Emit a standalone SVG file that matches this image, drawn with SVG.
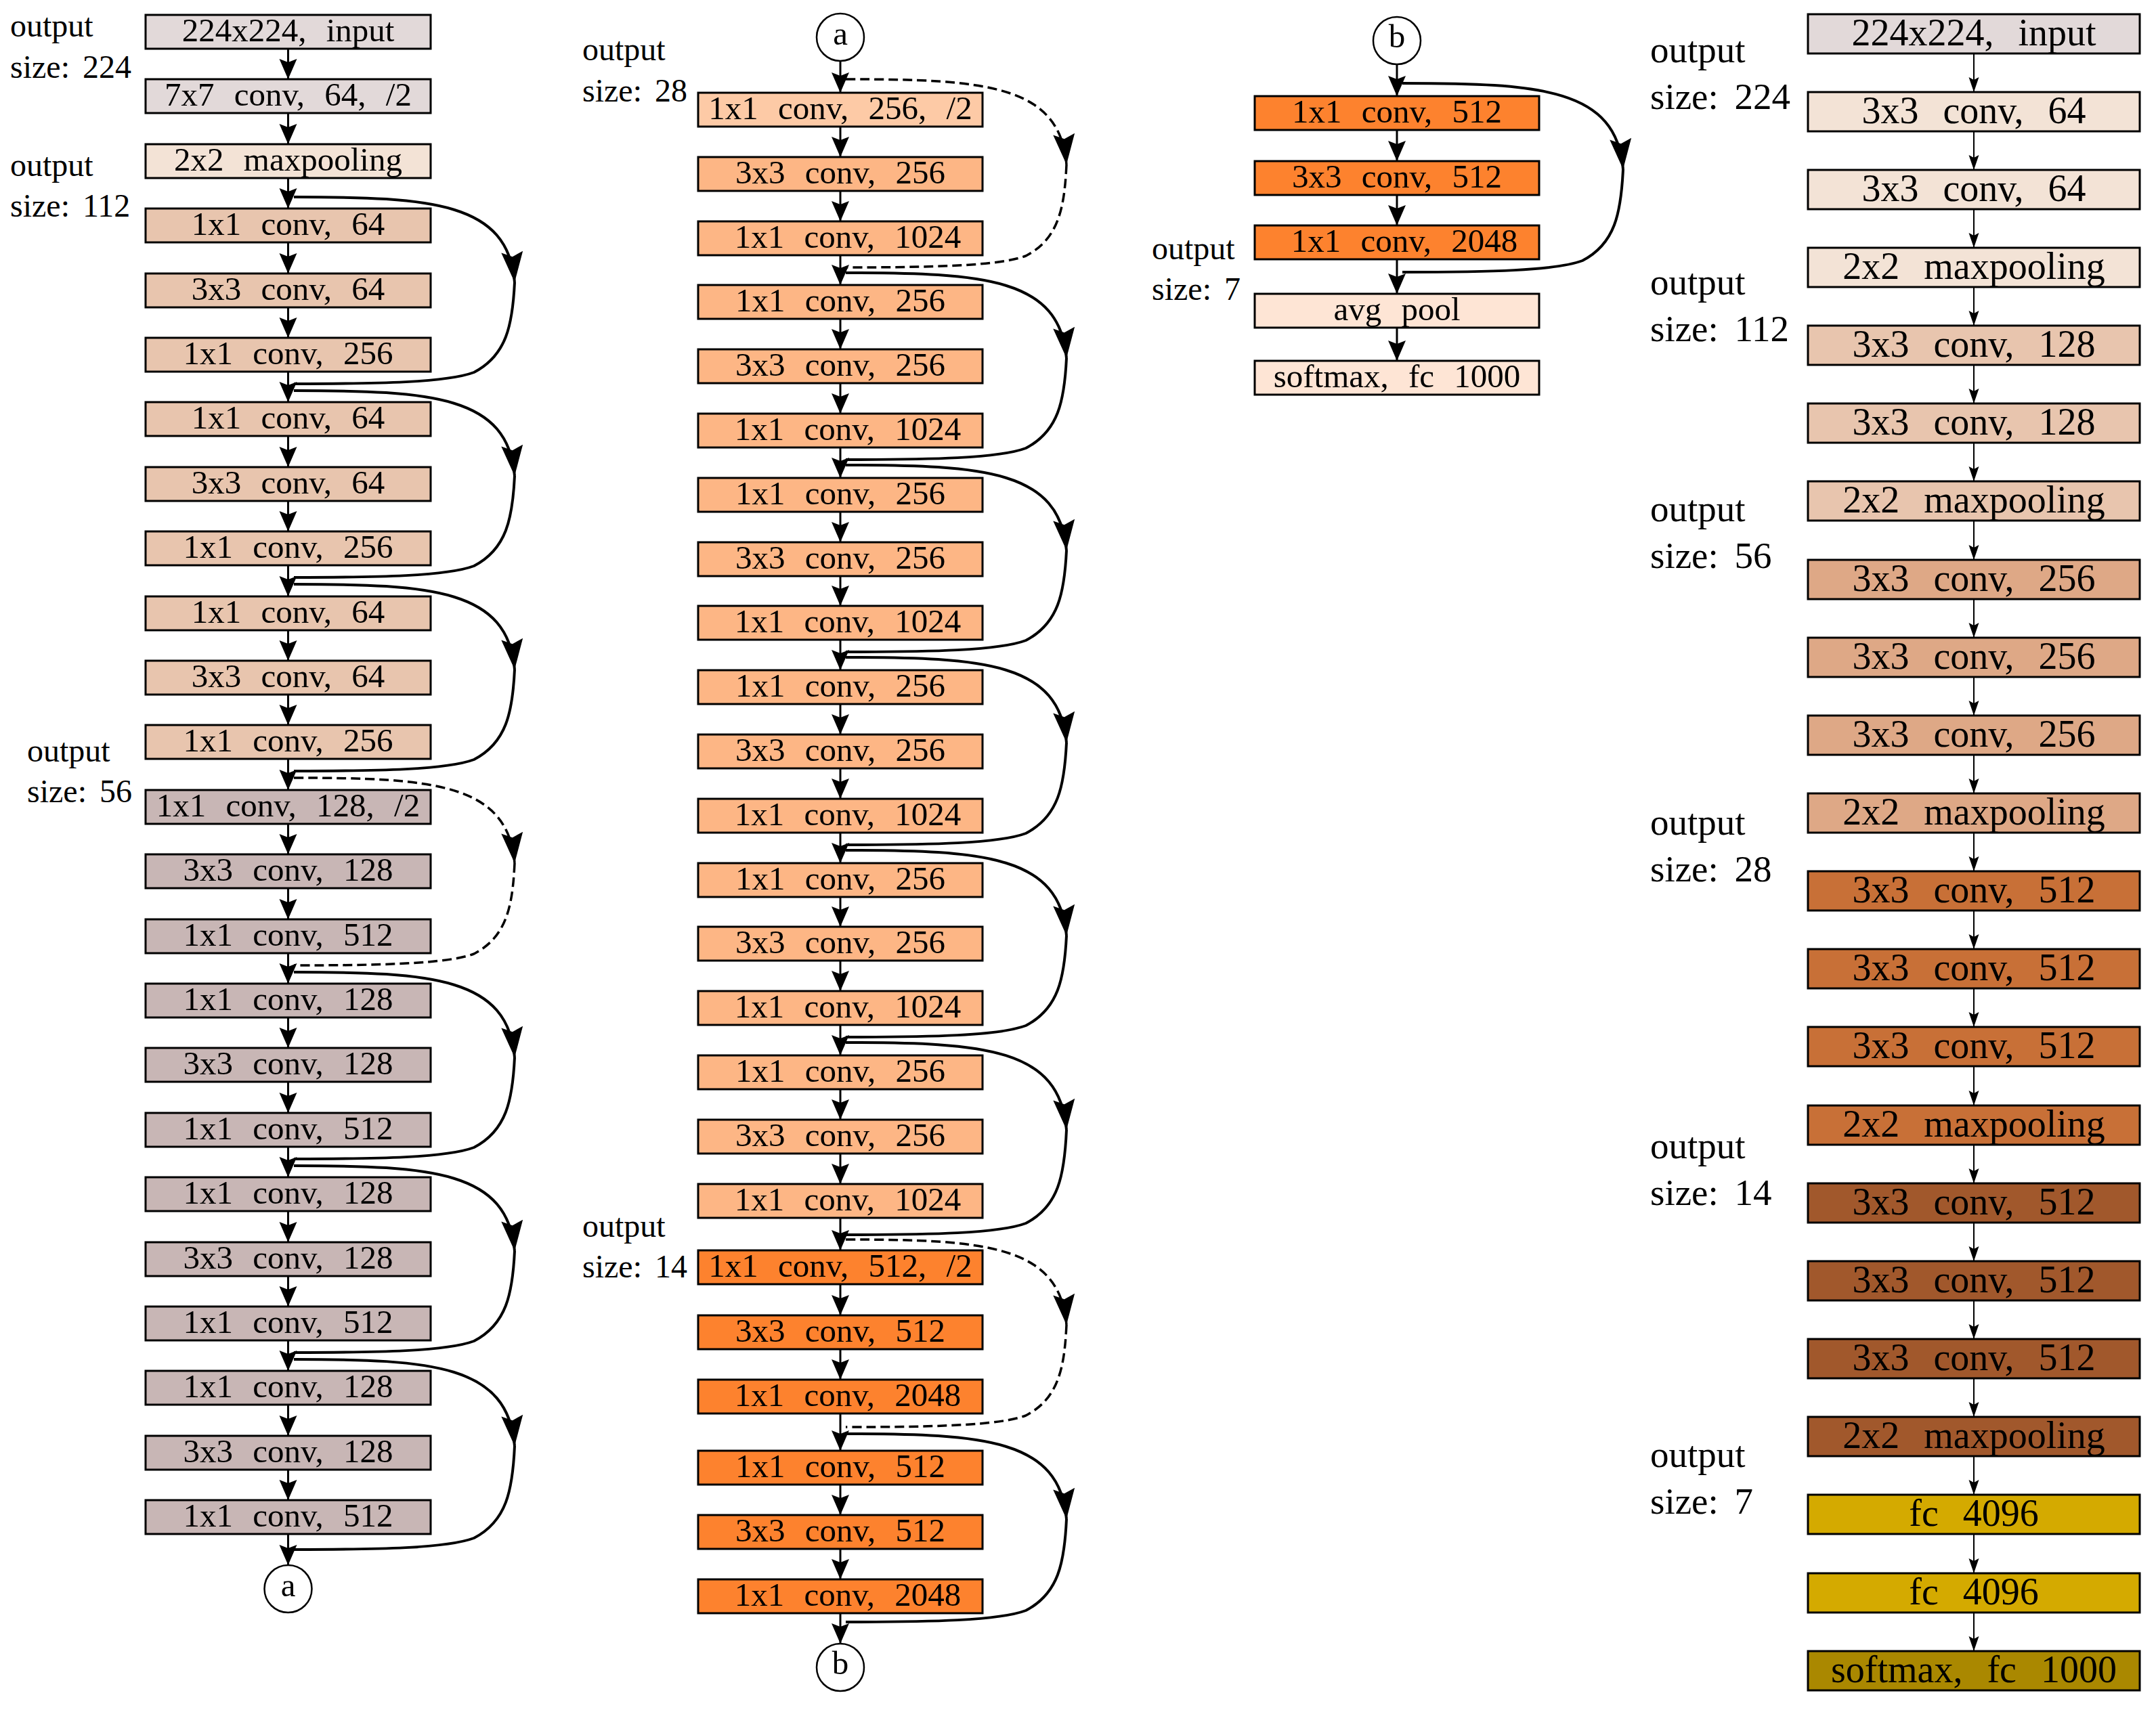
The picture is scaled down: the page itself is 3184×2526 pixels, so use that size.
<svg xmlns="http://www.w3.org/2000/svg" width="3184" height="2526" viewBox="0 0 3184 2526">
<defs>
<style>
.bx{stroke:#000;stroke-width:3}
.t{font-family:"Liberation Serif","Times New Roman",serif;font-size:49px;text-anchor:middle;word-spacing:17px;fill:#000}
.tv{font-family:"Liberation Serif","Times New Roman",serif;font-size:56px;text-anchor:middle;word-spacing:22px;fill:#000}
.lb{font-family:"Liberation Serif","Times New Roman",serif;font-size:48px;word-spacing:7px;fill:#000}
.lbv{font-family:"Liberation Serif","Times New Roman",serif;font-size:55px;word-spacing:10px;fill:#000}
.circ{fill:#fff;stroke:#000;stroke-width:2.5}
.arr{stroke:#000;stroke-width:3;fill:none;marker-end:url(#ah)}
.varr{stroke:#000;stroke-width:2;fill:none;marker-end:url(#ahv)}
.sk{stroke:#000;stroke-width:4;fill:none}
.ska{marker-end:url(#ahs)}
.dash{stroke-dasharray:14 7;stroke-width:3.5}
.cin{fill:#e2d9d9}.cmp{fill:#f3e3d6}.c64{fill:#e8c5ae}.c128{fill:#c8b6b5}
.c256a{fill:#fdcaa6}.c256{fill:#fdb685}.c512{fill:#fd822e}.cend{fill:#fee5d5}
.cv256{fill:#dea886}.cv512a{fill:#c87037}.cv512b{fill:#a1582c}.cfc{fill:#d4aa00}.csm{fill:#aa8800}
</style>
<marker id="ah" markerUnits="userSpaceOnUse" viewBox="-32 -15 34 30" markerWidth="34" markerHeight="30" refX="0" refY="0" orient="auto" overflow="visible"><path d="M0,0 L-30,-13 L-25,0 L-30,13 Z" fill="#000"/></marker>
<marker id="ahv" markerUnits="userSpaceOnUse" viewBox="-24 -9 26 18" markerWidth="26" markerHeight="18" refX="0" refY="0" orient="auto" overflow="visible"><path d="M0,0 L-22,-7.5 L-18,0 L-22,7.5 Z" fill="#000"/></marker>
<marker id="ahs" markerUnits="userSpaceOnUse" viewBox="-47 -18 49 36" markerWidth="49" markerHeight="36" refX="0" refY="0" orient="auto" overflow="visible"><path d="M0,0 L-45,-16 L-38,0 L-45,16 Z" fill="#000"/></marker>
</defs>
<rect x="0" y="0" width="3184" height="2526" fill="#fff"/>

<g id="labels">
<text class="lb" x="15" y="54">output</text><text class="lb" x="15" y="115">size: 224</text>
<text class="lb" x="15" y="260">output</text><text class="lb" x="15" y="320">size: 112</text>
<text class="lb" x="40" y="1125">output</text><text class="lb" x="40" y="1185">size: 56</text>
<text class="lb" x="860" y="89">output</text><text class="lb" x="860" y="150">size: 28</text>
<text class="lb" x="860" y="1827">output</text><text class="lb" x="860" y="1887">size: 14</text>
<text class="lb" x="1701" y="383">output</text><text class="lb" x="1701" y="443">size: 7</text>
<text class="lbv" x="2437" y="92">output</text><text class="lbv" x="2437" y="161">size: 224</text>
<text class="lbv" x="2437" y="435">output</text><text class="lbv" x="2437" y="504">size: 112</text>
<text class="lbv" x="2437" y="770">output</text><text class="lbv" x="2437" y="839">size: 56</text>
<text class="lbv" x="2437" y="1233">output</text><text class="lbv" x="2437" y="1302">size: 28</text>
<text class="lbv" x="2437" y="1711">output</text><text class="lbv" x="2437" y="1780">size: 14</text>
<text class="lbv" x="2437" y="2167">output</text><text class="lbv" x="2437" y="2236">size: 7</text>
</g>

<!-- Column 1 -->
<g id="r1-01"><rect class="bx cin" x="215" y="22" width="421" height="50"/><text class="t" x="425.5" y="61">224x224, input</text></g>
<g id="r1-02"><rect class="bx cin" x="215" y="117" width="421" height="50"/><text class="t" x="425.5" y="156">7x7 conv, 64, /2</text></g>
<g id="r1-03"><rect class="bx cmp" x="215" y="213" width="421" height="50"/><text class="t" x="425.5" y="252">2x2 maxpooling</text></g>
<g id="r1-04"><rect class="bx c64" x="215" y="308" width="421" height="50"/><text class="t" x="425.5" y="347">1x1 conv, 64</text></g>
<g id="r1-05"><rect class="bx c64" x="215" y="404" width="421" height="50"/><text class="t" x="425.5" y="443">3x3 conv, 64</text></g>
<g id="r1-06"><rect class="bx c64" x="215" y="499" width="421" height="50"/><text class="t" x="425.5" y="538">1x1 conv, 256</text></g>
<g id="r1-07"><rect class="bx c64" x="215" y="594" width="421" height="50"/><text class="t" x="425.5" y="633">1x1 conv, 64</text></g>
<g id="r1-08"><rect class="bx c64" x="215" y="690" width="421" height="50"/><text class="t" x="425.5" y="729">3x3 conv, 64</text></g>
<g id="r1-09"><rect class="bx c64" x="215" y="785" width="421" height="50"/><text class="t" x="425.5" y="824">1x1 conv, 256</text></g>
<g id="r1-10"><rect class="bx c64" x="215" y="881" width="421" height="50"/><text class="t" x="425.5" y="920">1x1 conv, 64</text></g>
<g id="r1-11"><rect class="bx c64" x="215" y="976" width="421" height="50"/><text class="t" x="425.5" y="1015">3x3 conv, 64</text></g>
<g id="r1-12"><rect class="bx c64" x="215" y="1071" width="421" height="50"/><text class="t" x="425.5" y="1110">1x1 conv, 256</text></g>
<g id="r1-13"><rect class="bx c128" x="215" y="1167" width="421" height="50"/><text class="t" x="425.5" y="1206">1x1 conv, 128, /2</text></g>
<g id="r1-14"><rect class="bx c128" x="215" y="1262" width="421" height="50"/><text class="t" x="425.5" y="1301">3x3 conv, 128</text></g>
<g id="r1-15"><rect class="bx c128" x="215" y="1358" width="421" height="50"/><text class="t" x="425.5" y="1397">1x1 conv, 512</text></g>
<g id="r1-16"><rect class="bx c128" x="215" y="1453" width="421" height="50"/><text class="t" x="425.5" y="1492">1x1 conv, 128</text></g>
<g id="r1-17"><rect class="bx c128" x="215" y="1548" width="421" height="50"/><text class="t" x="425.5" y="1587">3x3 conv, 128</text></g>
<g id="r1-18"><rect class="bx c128" x="215" y="1644" width="421" height="50"/><text class="t" x="425.5" y="1683">1x1 conv, 512</text></g>
<g id="r1-19"><rect class="bx c128" x="215" y="1739" width="421" height="50"/><text class="t" x="425.5" y="1778">1x1 conv, 128</text></g>
<g id="r1-20"><rect class="bx c128" x="215" y="1835" width="421" height="50"/><text class="t" x="425.5" y="1874">3x3 conv, 128</text></g>
<g id="r1-21"><rect class="bx c128" x="215" y="1930" width="421" height="50"/><text class="t" x="425.5" y="1969">1x1 conv, 512</text></g>
<g id="r1-22"><rect class="bx c128" x="215" y="2025" width="421" height="50"/><text class="t" x="425.5" y="2064">1x1 conv, 128</text></g>
<g id="r1-23"><rect class="bx c128" x="215" y="2121" width="421" height="50"/><text class="t" x="425.5" y="2160">3x3 conv, 128</text></g>
<g id="r1-24"><rect class="bx c128" x="215" y="2216" width="421" height="50"/><text class="t" x="425.5" y="2255">1x1 conv, 512</text></g>
<g id="r1-a"><circle class="circ" cx="425.5" cy="2347" r="35"/><text class="t" x="425.5" y="2358">a</text></g>

<!-- Column 2 -->
<g id="r2-a"><circle class="circ" cx="1241" cy="55" r="35"/><text class="t" x="1241" y="66">a</text></g>
<g id="r2-01"><rect class="bx c256a" x="1031" y="137" width="420" height="50"/><text class="t" x="1241" y="176">1x1 conv, 256, /2</text></g>
<g id="r2-02"><rect class="bx c256" x="1031" y="232" width="420" height="50"/><text class="t" x="1241" y="271">3x3 conv, 256</text></g>
<g id="r2-03"><rect class="bx c256" x="1031" y="327" width="420" height="50"/><text class="t" x="1252" y="366">1x1 conv, 1024</text></g>
<g id="r2-04"><rect class="bx c256" x="1031" y="421" width="420" height="50"/><text class="t" x="1241" y="460">1x1 conv, 256</text></g>
<g id="r2-05"><rect class="bx c256" x="1031" y="516" width="420" height="50"/><text class="t" x="1241" y="555">3x3 conv, 256</text></g>
<g id="r2-06"><rect class="bx c256" x="1031" y="611" width="420" height="50"/><text class="t" x="1252" y="650">1x1 conv, 1024</text></g>
<g id="r2-07"><rect class="bx c256" x="1031" y="706" width="420" height="50"/><text class="t" x="1241" y="745">1x1 conv, 256</text></g>
<g id="r2-08"><rect class="bx c256" x="1031" y="801" width="420" height="50"/><text class="t" x="1241" y="840">3x3 conv, 256</text></g>
<g id="r2-09"><rect class="bx c256" x="1031" y="895" width="420" height="50"/><text class="t" x="1252" y="934">1x1 conv, 1024</text></g>
<g id="r2-10"><rect class="bx c256" x="1031" y="990" width="420" height="50"/><text class="t" x="1241" y="1029">1x1 conv, 256</text></g>
<g id="r2-11"><rect class="bx c256" x="1031" y="1085" width="420" height="50"/><text class="t" x="1241" y="1124">3x3 conv, 256</text></g>
<g id="r2-12"><rect class="bx c256" x="1031" y="1180" width="420" height="50"/><text class="t" x="1252" y="1219">1x1 conv, 1024</text></g>
<g id="r2-13"><rect class="bx c256" x="1031" y="1275" width="420" height="50"/><text class="t" x="1241" y="1314">1x1 conv, 256</text></g>
<g id="r2-14"><rect class="bx c256" x="1031" y="1369" width="420" height="50"/><text class="t" x="1241" y="1408">3x3 conv, 256</text></g>
<g id="r2-15"><rect class="bx c256" x="1031" y="1464" width="420" height="50"/><text class="t" x="1252" y="1503">1x1 conv, 1024</text></g>
<g id="r2-16"><rect class="bx c256" x="1031" y="1559" width="420" height="50"/><text class="t" x="1241" y="1598">1x1 conv, 256</text></g>
<g id="r2-17"><rect class="bx c256" x="1031" y="1654" width="420" height="50"/><text class="t" x="1241" y="1693">3x3 conv, 256</text></g>
<g id="r2-18"><rect class="bx c256" x="1031" y="1749" width="420" height="50"/><text class="t" x="1252" y="1788">1x1 conv, 1024</text></g>
<g id="r2-19"><rect class="bx c512" x="1031" y="1847" width="420" height="50"/><text class="t" x="1241" y="1886">1x1 conv, 512, /2</text></g>
<g id="r2-20"><rect class="bx c512" x="1031" y="1943" width="420" height="50"/><text class="t" x="1241" y="1982">3x3 conv, 512</text></g>
<g id="r2-21"><rect class="bx c512" x="1031" y="2038" width="420" height="50"/><text class="t" x="1252" y="2077">1x1 conv, 2048</text></g>
<g id="r2-22"><rect class="bx c512" x="1031" y="2143" width="420" height="50"/><text class="t" x="1241" y="2182">1x1 conv, 512</text></g>
<g id="r2-23"><rect class="bx c512" x="1031" y="2238" width="420" height="50"/><text class="t" x="1241" y="2277">3x3 conv, 512</text></g>
<g id="r2-24"><rect class="bx c512" x="1031" y="2333" width="420" height="50"/><text class="t" x="1252" y="2372">1x1 conv, 2048</text></g>
<g id="r2-b"><circle class="circ" cx="1241" cy="2463" r="35"/><text class="t" x="1241" y="2473">b</text></g>

<!-- Column 3 -->
<g id="r3-b"><circle class="circ" cx="2063" cy="60" r="35"/><text class="t" x="2063" y="70">b</text></g>
<g id="r3-01"><rect class="bx c512" x="1853" y="142" width="420" height="50"/><text class="t" x="2063" y="181">1x1 conv, 512</text></g>
<g id="r3-02"><rect class="bx c512" x="1853" y="238" width="420" height="50"/><text class="t" x="2063" y="277">3x3 conv, 512</text></g>
<g id="r3-03"><rect class="bx c512" x="1853" y="333" width="420" height="50"/><text class="t" x="2074" y="372">1x1 conv, 2048</text></g>
<g id="r3-04"><rect class="bx cend" x="1853" y="434" width="420" height="50"/><text class="t" x="2063" y="473">avg pool</text></g>
<g id="r3-05"><rect class="bx cend" x="1853" y="533" width="420" height="50"/><text class="t" x="2063" y="572">softmax, fc 1000</text></g>

<!-- VGG column -->
<g id="v-00"><rect class="bx cin" x="2670" y="21" width="490" height="58"/><text class="tv" x="2915" y="67">224x224, input</text></g>
<g id="v-01"><rect class="bx cmp" x="2670" y="136" width="490" height="58"/><text class="tv" x="2915" y="182">3x3 conv, 64</text></g>
<g id="v-02"><rect class="bx cmp" x="2670" y="251" width="490" height="58"/><text class="tv" x="2915" y="297">3x3 conv, 64</text></g>
<g id="v-03"><rect class="bx cmp" x="2670" y="366" width="490" height="58"/><text class="tv" x="2915" y="412">2x2 maxpooling</text></g>
<g id="v-04"><rect class="bx c64" x="2670" y="481" width="490" height="58"/><text class="tv" x="2915" y="527">3x3 conv, 128</text></g>
<g id="v-05"><rect class="bx c64" x="2670" y="596" width="490" height="58"/><text class="tv" x="2915" y="642">3x3 conv, 128</text></g>
<g id="v-06"><rect class="bx c64" x="2670" y="711" width="490" height="58"/><text class="tv" x="2915" y="757">2x2 maxpooling</text></g>
<g id="v-07"><rect class="bx cv256" x="2670" y="827" width="490" height="58"/><text class="tv" x="2915" y="873">3x3 conv, 256</text></g>
<g id="v-08"><rect class="bx cv256" x="2670" y="942" width="490" height="58"/><text class="tv" x="2915" y="988">3x3 conv, 256</text></g>
<g id="v-09"><rect class="bx cv256" x="2670" y="1057" width="490" height="58"/><text class="tv" x="2915" y="1103">3x3 conv, 256</text></g>
<g id="v-10"><rect class="bx cv256" x="2670" y="1172" width="490" height="58"/><text class="tv" x="2915" y="1218">2x2 maxpooling</text></g>
<g id="v-11"><rect class="bx cv512a" x="2670" y="1287" width="490" height="58"/><text class="tv" x="2915" y="1333">3x3 conv, 512</text></g>
<g id="v-12"><rect class="bx cv512a" x="2670" y="1402" width="490" height="58"/><text class="tv" x="2915" y="1448">3x3 conv, 512</text></g>
<g id="v-13"><rect class="bx cv512a" x="2670" y="1517" width="490" height="58"/><text class="tv" x="2915" y="1563">3x3 conv, 512</text></g>
<g id="v-14"><rect class="bx cv512a" x="2670" y="1633" width="490" height="58"/><text class="tv" x="2915" y="1679">2x2 maxpooling</text></g>
<g id="v-15"><rect class="bx cv512b" x="2670" y="1748" width="490" height="58"/><text class="tv" x="2915" y="1794">3x3 conv, 512</text></g>
<g id="v-16"><rect class="bx cv512b" x="2670" y="1863" width="490" height="58"/><text class="tv" x="2915" y="1909">3x3 conv, 512</text></g>
<g id="v-17"><rect class="bx cv512b" x="2670" y="1978" width="490" height="58"/><text class="tv" x="2915" y="2024">3x3 conv, 512</text></g>
<g id="v-18"><rect class="bx cv512b" x="2670" y="2093" width="490" height="58"/><text class="tv" x="2915" y="2139">2x2 maxpooling</text></g>
<g id="v-19"><rect class="bx cfc" x="2670" y="2208" width="490" height="58"/><text class="tv" x="2915" y="2254">fc 4096</text></g>
<g id="v-20"><rect class="bx cfc" x="2670" y="2324" width="490" height="58"/><text class="tv" x="2915" y="2370">fc 4096</text></g>
<g id="v-21"><rect class="bx csm" x="2670" y="2439" width="490" height="58"/><text class="tv" x="2915" y="2485">softmax, fc 1000</text></g>

<g id="connectors">
<!-- column 1 main -->
<path class="arr" d="M425.5 72V117"/><path class="arr" d="M425.5 167V213"/>
<path class="arr" d="M425.5 263V308"/><path class="arr" d="M425.5 358V404"/><path class="arr" d="M425.5 454V499"/>
<path class="arr" d="M425.5 549V594"/><path class="arr" d="M425.5 644V690"/><path class="arr" d="M425.5 740V785"/>
<path class="arr" d="M425.5 835V881"/><path class="arr" d="M425.5 931V976"/><path class="arr" d="M425.5 1026V1071"/>
<path class="arr" d="M425.5 1121V1167"/><path class="arr" d="M425.5 1217V1262"/><path class="arr" d="M425.5 1312V1358"/>
<path class="arr" d="M425.5 1408V1453"/><path class="arr" d="M425.5 1503V1548"/><path class="arr" d="M425.5 1598V1644"/>
<path class="arr" d="M425.5 1694V1739"/><path class="arr" d="M425.5 1789V1835"/><path class="arr" d="M425.5 1885V1930"/>
<path class="arr" d="M425.5 1980V2025"/><path class="arr" d="M425.5 2075V2121"/><path class="arr" d="M425.5 2171V2216"/>
<path class="arr" d="M425.5 2266V2312"/>
<!-- column 1 skips -->
<path class="sk ska" d="M434 291C640 291 750 299 760 417"/><path class="sk" d="M760 417C757 480 748 525 700 550C660 565 560 567 434 567"/>
<path class="sk ska" d="M434 577C640 577 750 585 760 703"/><path class="sk" d="M760 703C757 766 748 811 700 836C660 851 560 853 434 853"/>
<path class="sk ska" d="M434 863C640 863 750 871 760 989"/><path class="sk" d="M760 989C757 1052 748 1097 700 1122C660 1137 560 1139 434 1139"/>
<path class="sk ska dash" d="M434 1149C640 1149 750 1157 760 1275"/><path class="sk dash" d="M760 1275C757 1339 748 1384 700 1409C660 1424 560 1426 434 1426"/>
<path class="sk ska" d="M434 1436C640 1436 750 1444 760 1562"/><path class="sk" d="M760 1562C757 1625 748 1670 700 1695C660 1710 560 1712 434 1712"/>
<path class="sk ska" d="M434 1722C640 1722 750 1730 760 1848"/><path class="sk" d="M760 1848C757 1911 748 1956 700 1981C660 1996 560 1998 434 1998"/>
<path class="sk ska" d="M434 2008C640 2008 750 2016 760 2136"/><path class="sk" d="M760 2136C757 2202 748 2247 700 2272C660 2287 560 2289 434 2289"/>
<!-- column 2 main -->
<path class="arr" d="M1241 90V137"/><path class="arr" d="M1241 187V232"/><path class="arr" d="M1241 282V327"/>
<path class="arr" d="M1241 377V421"/><path class="arr" d="M1241 471V516"/><path class="arr" d="M1241 566V611"/>
<path class="arr" d="M1241 661V706"/><path class="arr" d="M1241 756V801"/><path class="arr" d="M1241 851V895"/>
<path class="arr" d="M1241 945V990"/><path class="arr" d="M1241 1040V1085"/><path class="arr" d="M1241 1135V1180"/>
<path class="arr" d="M1241 1230V1275"/><path class="arr" d="M1241 1325V1369"/><path class="arr" d="M1241 1419V1464"/>
<path class="arr" d="M1241 1514V1559"/><path class="arr" d="M1241 1609V1654"/><path class="arr" d="M1241 1704V1749"/>
<path class="arr" d="M1241 1799V1847"/><path class="arr" d="M1241 1897V1943"/><path class="arr" d="M1241 1993V2038"/>
<path class="arr" d="M1241 2088V2143"/><path class="arr" d="M1241 2193V2238"/><path class="arr" d="M1241 2288V2333"/>
<path class="arr" d="M1241 2383V2428"/>
<!-- column 2 skips -->
<path class="sk ska dash" d="M1249 117C1455 117 1565 125 1575 243"/><path class="sk dash" d="M1575 243C1572 308 1563 353 1515 378C1475 393 1375 395 1249 395"/>
<path class="sk ska" d="M1249 403C1455 403 1565 411 1575 529"/><path class="sk" d="M1575 529C1572 592 1563 637 1515 662C1475 677 1375 679 1249 679"/>
<path class="sk ska" d="M1249 687C1455 687 1565 695 1575 813"/><path class="sk" d="M1575 813C1572 876 1563 921 1515 946C1475 961 1375 963 1249 963"/>
<path class="sk ska" d="M1249 971C1455 971 1565 979 1575 1097"/><path class="sk" d="M1575 1097C1572 1161 1563 1206 1515 1231C1475 1246 1375 1248 1249 1248"/>
<path class="sk ska" d="M1249 1256C1455 1256 1565 1264 1575 1382"/><path class="sk" d="M1575 1382C1572 1445 1563 1490 1515 1515C1475 1530 1375 1532 1249 1532"/>
<path class="sk ska" d="M1249 1540C1455 1540 1565 1548 1575 1669"/><path class="sk" d="M1575 1669C1572 1737 1563 1782 1515 1807C1475 1822 1375 1824 1249 1824"/>
<path class="sk ska dash" d="M1249 1831C1455 1831 1565 1839 1575 1957"/><path class="sk dash" d="M1575 1957C1572 2021 1563 2066 1515 2091C1475 2106 1375 2108 1249 2108"/>
<path class="sk ska" d="M1249 2118C1455 2118 1565 2126 1575 2244"/><path class="sk" d="M1575 2244C1572 2309 1563 2354 1515 2379C1475 2394 1375 2396 1249 2396"/>
<!-- column 3 -->
<path class="arr" d="M2063 95V142"/><path class="arr" d="M2063 192V238"/><path class="arr" d="M2063 288V333"/>
<path class="arr" d="M2063 383V434"/><path class="arr" d="M2063 484V533"/>
<path class="sk ska" d="M2071 123C2277 123 2387 131 2397 250"/><path class="sk" d="M2397 250C2394 315 2385 360 2337 385C2297 400 2197 402 2071 402"/>
<!-- VGG -->
<path class="varr" d="M2915 79V136"/><path class="varr" d="M2915 194V251"/><path class="varr" d="M2915 309V366"/>
<path class="varr" d="M2915 424V481"/><path class="varr" d="M2915 539V596"/><path class="varr" d="M2915 654V711"/>
<path class="varr" d="M2915 769V827"/><path class="varr" d="M2915 885V942"/><path class="varr" d="M2915 1000V1057"/>
<path class="varr" d="M2915 1115V1172"/><path class="varr" d="M2915 1230V1287"/><path class="varr" d="M2915 1345V1402"/>
<path class="varr" d="M2915 1460V1517"/><path class="varr" d="M2915 1575V1633"/><path class="varr" d="M2915 1691V1748"/>
<path class="varr" d="M2915 1806V1863"/><path class="varr" d="M2915 1921V1978"/><path class="varr" d="M2915 2036V2093"/>
<path class="varr" d="M2915 2151V2208"/><path class="varr" d="M2915 2266V2324"/><path class="varr" d="M2915 2382V2439"/>
</g>
</svg>
